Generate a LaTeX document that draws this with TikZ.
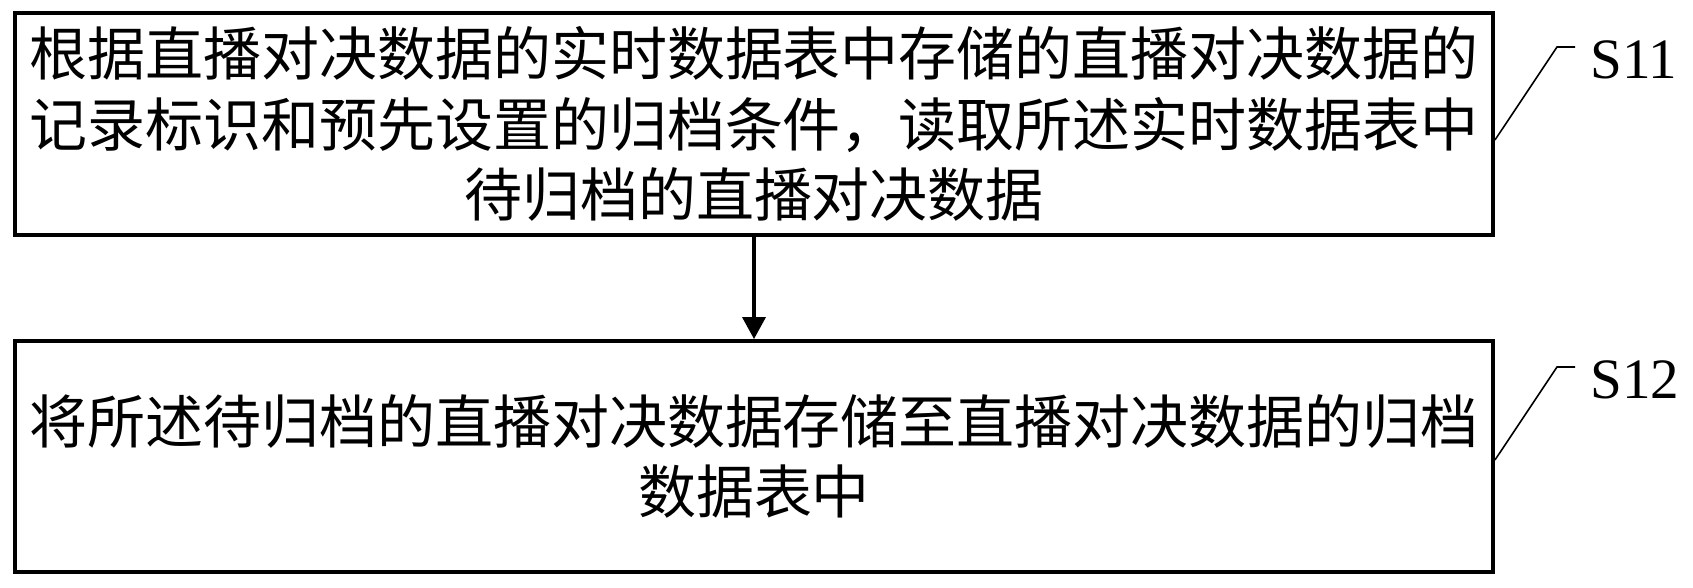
\documentclass[tikz,border=0pt]{standalone}
\usepackage{fontspec}
\setmainfont{Liberation Serif}
\newfontfamily\cjk{Noto Sans CJK SC}
\usetikzlibrary{arrows.meta}
\begin{document}
\begin{tikzpicture}[
    stepbox/.style={draw,line width=2.2pt,minimum width=29.56cm,text width=29.3cm,
      align=center,inner sep=0pt,font=\cjk\fontsize{33pt}{40pt}\selectfont},
    lead/.style={line width=0.9pt},
    tag/.style={anchor=base west,inner sep=0pt,font=\fontsize{32.5pt}{36pt}\selectfont}]
      \useasboundingbox (0,0) rectangle (33.86,-11.74);

      \node[stepbox,minimum height=4.44cm] (s11) at (15.08,-2.48)
        {根据直播对决数据的实时数据表中存储的直播对决数据的\\记录标识和预先设置的归档条件，读取所述实时数据表中\\待归档的直播对决数据};
      \node[stepbox,minimum height=4.62cm] (s12) at (15.08,-9.13)
        {将所述待归档的直播对决数据存储至直播对决数据的归档\\数据表中};

      \draw[-{Triangle[length=0.44cm,width=0.46cm]},line width=2pt] (s11.south)--(s12.north);

      \coordinate (k11) at (31.14,-0.94);
      \coordinate (e11) at (31.5,-0.94);
      \coordinate (k12) at (31.14,-7.34);
      \coordinate (e12) at (31.5,-7.34);
      \draw[lead] ([yshift=-0.32cm]s11.east)--(k11)--(e11);
      \draw[lead] ([yshift=-0.07cm]s12.east)--(k12)--(e12);
      \node[tag] (t11) at (31.8,-1.56) {S11};
      \node[tag] (t12) at (31.8,-7.96) {S12};
    \end{tikzpicture}
\end{document}
